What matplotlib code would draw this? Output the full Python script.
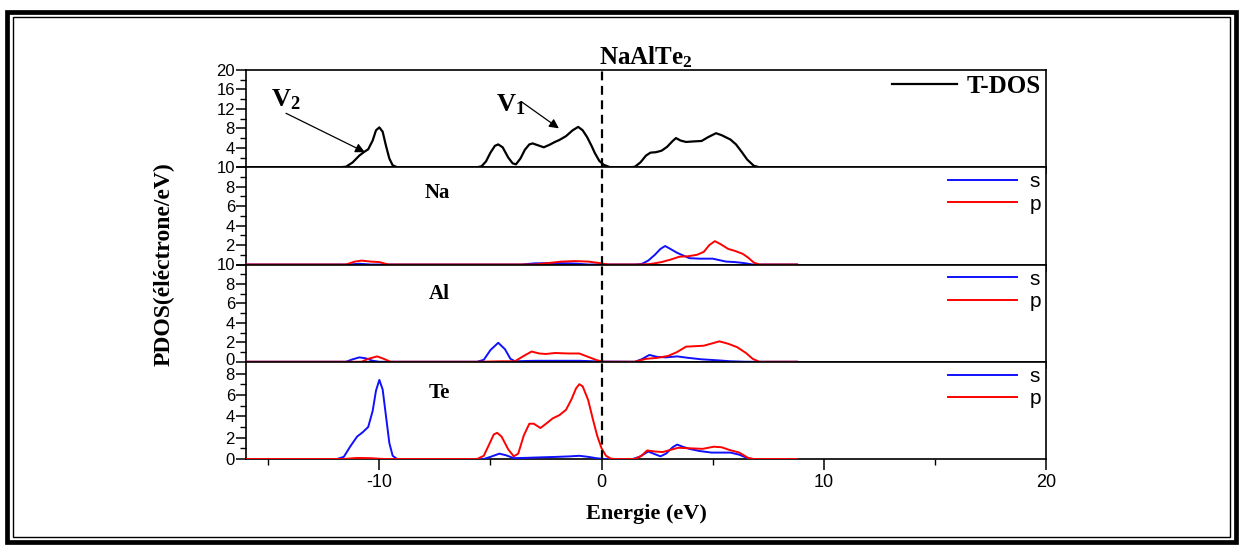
import matplotlib
matplotlib.use("Agg")
import matplotlib.pyplot as plt
import matplotlib.transforms as mtransforms
from matplotlib.patches import Rectangle

plt.rcParams['font.family'] = ['Liberation Sans', 'DejaVu Sans']
plt.rcParams['mathtext.fontset'] = 'custom'
plt.rcParams['mathtext.rm'] = 'Liberation Serif'
plt.rcParams['mathtext.bf'] = 'Liberation Serif:bold'
plt.rcParams['axes.unicode_minus'] = False

# total DOS
e_tdos = [-16, -11.8, -11.5, -11.2, -10.9, -10.7, -10.5, -10.3, -10.15, -10.0, -9.85, -9.7, -9.55, -9.4, -9.2,
          -5.6, -5.4, -5.2, -5.0, -4.8, -4.65, -4.45, -4.2, -4.0, -3.85, -3.65, -3.45, -3.25, -3.1, -2.85, -2.6,
          -2.35, -2.1, -1.9, -1.6, -1.3, -1.05, -0.85, -0.65, -0.45, -0.3, -0.1, 0.1, 0.35, 0.6,
          1.3, 1.5, 1.75, 2.0, 2.2, 2.45, 2.7, 2.95, 3.2, 3.35, 3.55, 3.8, 4.1, 4.5, 4.8, 5.15, 5.4, 5.8,
          6.05, 6.3, 6.55, 6.85, 7.1, 8.8]
tdos = [0, 0, 0.1, 1.0, 2.4, 3.1, 3.7, 5.5, 7.6, 8.2, 7.3, 4.4, 1.8, 0.4, 0,
        0, 0.2, 1.2, 3.0, 4.4, 4.7, 4.1, 2.0, 0.8, 0.6, 1.8, 3.6, 4.7, 4.9, 4.5, 4.1,
        4.6, 5.2, 5.6, 6.4, 7.6, 8.3, 7.6, 6.2, 4.4, 2.9, 1.3, 0.5, 0.05, 0,
        0, 0.1, 1.0, 2.4, 3.0, 3.1, 3.4, 4.2, 5.4, 6.0, 5.5, 5.2, 5.3, 5.4, 6.2, 7.0, 6.6, 5.7,
        4.7, 3.2, 1.6, 0.3, 0, 0]

# Na
e_na_s = [-16, -11.4, -10.9, -10.4, -3.6, -3.0, -2.0, -1.2, -0.6, 1.5, 1.8, 2.1, 2.4, 2.65, 2.86, 3.1, 3.4,
          3.7, 3.95, 4.4, 4.8, 5.0, 5.3, 5.6, 6.0, 6.4, 6.8, 8.8]
na_s = [0, 0, 0.08, 0, 0, 0.12, 0.15, 0.1, 0, 0, 0.05, 0.4, 1.0, 1.6, 1.9, 1.6, 1.2,
        0.9, 0.65, 0.6, 0.6, 0.6, 0.45, 0.3, 0.25, 0.15, 0, 0]
e_na_p = [-16, -11.5, -11.1, -10.8, -10.4, -10.0, -9.6, -3.0, -2.4, -1.8, -1.2, -0.6, -0.1, 0.3,
          1.7, 2.2, 2.7, 3.1, 3.5, 3.9, 4.3, 4.6, 4.85, 5.1, 5.35, 5.7, 6.0, 6.35, 6.6, 6.85, 7.1, 8.8]
na_p = [0, 0, 0.3, 0.4, 0.3, 0.25, 0, 0, 0.15, 0.3, 0.35, 0.3, 0.15, 0,
        0, 0.05, 0.25, 0.5, 0.8, 0.85, 1.0, 1.3, 2.0, 2.4, 2.1, 1.6, 1.4, 1.1, 0.7, 0.2, 0, 0]

# Al
e_al_s = [-16, -11.5, -11.2, -10.9, -10.6, -10.3, -10.0, -5.6, -5.3, -5.0, -4.65, -4.35, -4.1, -3.9,
          -3.0, -1.0, 0.0, 1.5, 1.8, 2.15, 2.5, 2.9, 3.4, 3.9, 4.5, 5.2, 5.8, 6.5, 8.8]
al_s = [0, 0, 0.25, 0.45, 0.35, 0.1, 0, 0, 0.2, 1.2, 1.95, 1.3, 0.3, 0.05,
        0.1, 0.1, 0.02, 0, 0.25, 0.7, 0.5, 0.45, 0.55, 0.4, 0.25, 0.15, 0.05, 0, 0]
e_al_p = [-16, -10.8, -10.5, -10.1, -9.8, -9.5, -5.5, -4.5, -3.9, -3.5, -3.15, -2.8, -2.5, -2.1, -1.5,
          -1.0, -0.6, -0.2, 0.1, 1.5, 2.0, 2.5, 3.0, 3.4, 3.8, 4.2, 4.6, 5.0, 5.3, 5.7, 6.1, 6.5,
          6.8, 7.1, 8.8]
al_p = [0, 0, 0.3, 0.55, 0.3, 0, 0, 0.05, 0.05, 0.6, 1.05, 0.85, 0.8, 0.9, 0.85,
        0.85, 0.5, 0.15, 0, 0, 0.3, 0.4, 0.6, 1.0, 1.55, 1.6, 1.65, 1.9, 2.1, 1.85, 1.5, 0.9,
        0.3, 0, 0]

# Te
e_te_s = [-16, -11.9, -11.6, -11.3, -11.0, -10.75, -10.5, -10.3, -10.15, -10.0, -9.85, -9.7, -9.55,
          -9.4, -9.2, -5.3, -5.0, -4.6, -4.3, -3.95, -3.5, -2.8, -2.0, -1.4, -1.0, -0.6, -0.25, 0.1,
          1.4, 1.7, 2.1, 2.4, 2.65, 2.9, 3.2, 3.4, 3.65, 3.95, 4.4, 4.95, 5.4, 5.8, 6.2, 6.6, 6.8, 8.8]
te_s = [0, 0, 0.2, 1.2, 2.1, 2.5, 3.0, 4.5, 6.4, 7.4, 6.5, 4.0, 1.5,
        0.3, 0, 0, 0.2, 0.5, 0.35, 0.08, 0.1, 0.15, 0.2, 0.25, 0.3, 0.2, 0.08, 0,
        0, 0.2, 0.7, 0.45, 0.25, 0.5, 1.1, 1.35, 1.15, 0.95, 0.75, 0.6, 0.6, 0.6, 0.4, 0.05, 0, 0]
e_te_p = [-16, -11.6, -11.0, -10.4, -9.8, -5.6, -5.3, -5.05, -4.85, -4.7, -4.5, -4.2, -3.95, -3.75,
          -3.5, -3.25, -3.05, -2.75, -2.5, -2.2, -1.9, -1.6, -1.35, -1.15, -1.0, -0.85, -0.6, -0.4,
          -0.2, 0.0, 0.2, 0.4, 0.6, 1.5, 1.8, 2.05, 2.4, 2.75, 3.1, 3.45, 4.0, 4.55, 5.05, 5.4, 5.75,
          6.2, 6.6, 6.85, 8.8]
te_p = [0, 0, 0.1, 0.08, 0, 0, 0.3, 1.4, 2.3, 2.45, 2.1, 0.9, 0.25, 0.5,
        2.2, 3.3, 3.3, 2.9, 3.3, 3.8, 4.1, 4.6, 5.6, 6.6, 7.0, 6.8, 5.5, 3.8,
        2.2, 1.0, 0.3, 0.05, 0, 0, 0.3, 0.8, 0.7, 0.65, 0.85, 1.05, 1.0, 0.95, 1.15, 1.1, 0.85,
        0.6, 0.1, 0, 0]

atoms = ['Na', 'Al', 'Te']
pdos = [((e_na_s, na_s), (e_na_p, na_p)),
        ((e_al_s, al_s), (e_al_p, al_p)),
        ((e_te_s, te_s), (e_te_p, te_p))]
ylims = [(0, 20), (0, 10), (0, 10), (0, 9.1)]
ytick_labels = [['', '4', '8', '12', '16', '20'],
                ['', '2', '4', '6', '8', '10'],
                ['0', '2', '4', '6', '8', '10'],
                ['0', '2', '4', '6', '8']]
yticks = [[0, 4, 8, 12, 16, 20], [0, 2, 4, 6, 8, 10], [0, 2, 4, 6, 8, 10], [0, 2, 4, 6, 8]]
yminor = [[2, 6, 10, 14, 18], [1, 3, 5, 7, 9], [1, 3, 5, 7, 9], [1, 3, 5, 7]]

W, H = 1240, 545
fig = plt.figure(figsize=(W / 100, H / 100), dpi=100)
left, right, top, bottom = 246, 1046, 70, 459
ph = (bottom - top) / 4

serif_b = {'family': 'Liberation Serif', 'weight': 'bold'}

axes = []
for i in range(4):
    ax = fig.add_axes([left / W, 1 - (top + (i + 1) * ph) / H, (right - left) / W, ph / H])
    ax.set_xlim(-16, 20)
    ax.set_ylim(*ylims[i])
    ax.set_yticks(yticks[i])
    ax.set_yticklabels(ytick_labels[i])
    ax.set_yticks(yminor[i], minor=True)
    ax.set_xticks([-10, 0, 10, 20])
    ax.set_xticks([-15, -5, 5, 15], minor=True)
    for s in ax.spines.values():
        s.set_linewidth(1.2)
    ax.tick_params(axis='y', which='major', direction='out', length=7, width=1.1, labelsize=12, pad=1)
    ax.tick_params(axis='y', which='minor', direction='out', length=4, width=1.0)
    if i < 3:
        ax.tick_params(axis='x', which='major', direction='out', length=5, width=1.1, labelbottom=False)
        ax.tick_params(axis='x', which='minor', direction='out', length=3, width=1.0)
    else:
        ax.tick_params(axis='x', which='major', direction='out', length=8, width=1.1, labelsize=13, pad=3)
        ax.tick_params(axis='x', which='minor', direction='out', length=4, width=1.0)
    ax.axvline(0, color='black', lw=1.6, ls=(0, (4, 2.5)), zorder=5)
    axes.append(ax)

# the "0" of the Al panel sits right above the "8" of the Te panel: lift it a little
for lbl in axes[2].get_yticklabels()[:1]:
    lbl.set_transform(lbl.get_transform() + mtransforms.ScaledTranslation(0, 2 / 72, fig.dpi_scale_trans))

# top panel: total DOS
ax0 = axes[0]
ax0.plot(e_tdos, tdos, color='black', lw=1.6, label='T-DOS', zorder=3)
ax0.legend(loc='upper right', frameon=False, prop={'family': 'Liberation Serif', 'weight': 'bold', 'size': 18},
           handlelength=2.6, handletextpad=0.4, borderaxespad=0.1, borderpad=0.1)
ax0.set_title(r'$\mathbf{NaAlTe_2}$', fontsize=18, pad=2)
ax0.text(-14.2, 13.8, r'$\mathbf{V_2}$', fontsize=19, ha='center', va='center')
ax0.text(-4.1, 12.8, r'$\mathbf{V_1}$', fontsize=19, ha='center', va='center')
arrow = dict(arrowstyle='-|>', color='black', lw=0.9, mutation_scale=14, shrinkA=0, shrinkB=0)
ax0.annotate('', xy=(-10.65, 3.1), xytext=(-14.2, 11.1), arrowprops=arrow)
ax0.annotate('', xy=(-1.92, 8.0), xytext=(-3.58, 13.4), arrowprops=arrow)

label_pos = [(-7.4, 7.4), (-7.3, 7.0), (-7.3, 6.2)]
for ax, name, (s_data, p_data), (lx, ly) in zip(axes[1:], atoms, pdos, label_pos):
    ax.plot(s_data[0], s_data[1], color='#1010ff', lw=1.4, label='s', zorder=3)
    ax.plot(p_data[0], p_data[1], color='#ff0000', lw=1.4, label='p', zorder=4)
    ax.text(lx, ly, name, fontdict=serif_b, fontsize=15, ha='center', va='center')
    ax.legend(loc='upper right', frameon=False, fontsize=15, handlelength=3.3, handletextpad=0.6,
              labelspacing=0.15, borderaxespad=0.15, borderpad=0.1)

axes[3].set_xlabel('Energie (eV)', fontdict=serif_b, fontsize=16, labelpad=9)
fig.text(164 / W, 1 - 264.5 / H, 'PDOS(éléctrone/eV)', fontdict=serif_b, fontsize=17,
         rotation=90, ha='center', va='center')

# double frame around the figure
fig.add_artist(Rectangle((7 / W, 3 / H), 1229 / W, 530 / H, transform=fig.transFigure,
                         fill=False, lw=3.4, color='black'))
fig.add_artist(Rectangle((12.5 / W, 8 / H), 1217 / W, 520 / H, transform=fig.transFigure,
                         fill=False, lw=1.0, color='black'))

fig.savefig('out.png', dpi=100)
